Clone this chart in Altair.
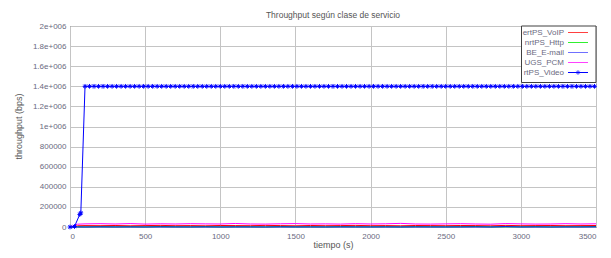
import altair as alt
import pandas as pd

TITLE = "Throughput según clase de servicio"
X_TITLE = "tiempo (s)"
Y_TITLE = "throughput (bps)"

series_names = ["ertPS_VoIP", "nrtPS_Http", "BE_E-mail", "UGS_PCM", "rtPS_Video"]
series_colors = ["#ff0000", "#00e000", "#0000ff", "#ff00ff", "#0000ff"]
legend_colors = ["#ff4040", "#30f030", "#7070ff", "#ff40ff", "#0000ff"]

# time samples for the low-rate services (s)
t_low = [0, 50, 100, 200, 300, 400, 500, 600, 700, 800, 900, 1000, 1100, 1200,
         1300, 1400, 1500, 1600, 1700, 1800, 1900, 2000, 2100, 2200, 2300, 2400,
         2500, 2600, 2700, 2800, 2900, 3000, 3100, 3200, 3300, 3400, 3500]

voip = [0, 12000, 14000, 13000, 15000, 12000, 14000, 16000, 13000, 14000, 12000,
        15000, 14000, 13000, 16000, 14000, 12000, 15000, 13000, 14000, 16000, 13000,
        14000, 12000, 15000, 14000, 13000, 15000, 14000, 12000, 16000, 13000, 14000,
        15000, 13000, 14000, 15000]

http = [0, 2000, 1000, 3000, 1500, 2500, 1000, 4000, 2000, 1500, 3000, 1000, 2500,
        2000, 1000, 3500, 1500, 2000, 1000, 3000, 2000, 1500, 2500, 1000, 3000, 2000,
        1500, 2500, 4000, 1000, 2000, 1500, 3000, 1000, 2500, 2000, 4000]

email = [0, 500, 300, 800, 400, 600, 300, 900, 500, 400, 700, 300, 600, 500, 300,
         800, 400, 500, 300, 700, 500, 400, 600, 300, 700, 500, 400, 600, 900, 300,
         3000, 400, 700, 300, 600, 500, 800]

ugs = [0, 28000, 31000, 33000, 30000, 34000, 29000, 32000, 30000, 33000, 31000,
       30000, 35000, 30000, 29000, 32000, 34000, 30000, 31000, 29000, 33000, 30000,
       32000, 36000, 30000, 29000, 31000, 33000, 30000, 28000, 34000, 31000, 29000,
       30000, 33000, 30000, 32000]

t_video = [0, 30, 65, 72,
           100, 130, 160, 190, 220, 250, 280, 310, 340, 370,
           400, 430, 460, 490, 520, 550, 580, 610, 640, 670,
           700, 730, 760, 790, 820, 850, 880, 910, 940, 970,
           1000, 1030, 1060, 1090, 1120, 1150, 1180, 1210, 1240, 1270,
           1300, 1330, 1360, 1390, 1420, 1450, 1480, 1510, 1540, 1570,
           1600, 1630, 1660, 1690, 1720, 1750, 1780, 1810, 1840, 1870,
           1900, 1930, 1960, 1990, 2020, 2050, 2080, 2110, 2140, 2170,
           2200, 2230, 2260, 2290, 2320, 2350, 2380, 2410, 2440, 2470,
           2500, 2530, 2560, 2590, 2620, 2650, 2680, 2710, 2740, 2770,
           2800, 2830, 2860, 2890, 2920, 2950, 2980, 3010, 3040, 3070,
           3100, 3130, 3160, 3190, 3220, 3250, 3280, 3310, 3340, 3370,
           3400, 3430, 3460, 3490]

video = [0, 5000, 125000, 140000,
         1400000, 1400000, 1400000, 1400000, 1400000, 1400000, 1400000, 1400000, 1400000, 1400000,
         1400000, 1400000, 1400000, 1400000, 1400000, 1400000, 1400000, 1400000, 1400000, 1400000,
         1400000, 1400000, 1400000, 1400000, 1400000, 1400000, 1400000, 1400000, 1400000, 1400000,
         1400000, 1400000, 1400000, 1400000, 1400000, 1400000, 1400000, 1400000, 1400000, 1400000,
         1400000, 1400000, 1400000, 1400000, 1400000, 1400000, 1400000, 1400000, 1400000, 1400000,
         1400000, 1400000, 1400000, 1400000, 1400000, 1400000, 1400000, 1400000, 1400000, 1400000,
         1400000, 1400000, 1400000, 1400000, 1400000, 1400000, 1400000, 1400000, 1400000, 1400000,
         1400000, 1400000, 1400000, 1400000, 1400000, 1400000, 1400000, 1400000, 1400000, 1400000,
         1400000, 1400000, 1400000, 1400000, 1400000, 1400000, 1400000, 1400000, 1400000, 1400000,
         1400000, 1400000, 1400000, 1400000, 1400000, 1400000, 1400000, 1400000, 1400000, 1400000,
         1400000, 1400000, 1400000, 1400000, 1400000, 1400000, 1400000, 1400000, 1400000, 1400000,
         1400000, 1400000, 1400000, 1400000]

x_ticks = [0, 500, 1000, 1500, 2000, 2500, 3000, 3500]
y_ticks = [0, 200000, 400000, 600000, 800000, 1000000, 1200000, 1400000,
           1600000, 1800000, 2000000]

FONT = "Liberation Sans"
LABEL_COLOR = "#6a6a80"
TEXT_COLOR = "#555555"

rows = []
for name, vals in zip(series_names[:4], [voip, http, email, ugs]):
    for t, v in zip(t_low, vals):
        rows.append({"serie": name, "t": t, "v": v})
low_df = pd.DataFrame(rows)
video_df = pd.DataFrame({"serie": series_names[4], "t": t_video, "v": video})

color = alt.Color("serie:N", scale=alt.Scale(domain=series_names, range=series_colors), legend=None)

x_enc = alt.X("t:Q", scale=alt.Scale(domain=[0, 3500], nice=False),
              axis=alt.Axis(values=x_ticks, title=X_TITLE, titleX=263, titleY=22,
                            titleBaseline="bottom", labelPadding=5, format="d",
                            labelOverlap=False))
y_enc = alt.Y("v:Q", scale=alt.Scale(domain=[0, 2000000], nice=False),
              axis=alt.Axis(values=y_ticks, title=Y_TITLE, titleX=-52, titleY=100,
                            titleAngle=270, titleAlign="center", titleBaseline="middle",
                            labelPadding=4, labelOverlap=False,
                            labelExpr="datum.value < 1000000 ? '' + datum.value : '' + (datum.value/1000000) + 'e+006'"))

ASTER = "M-1,0H1M0,-1V1M-0.7,-0.7L0.7,0.7M-0.7,0.7L0.7,-0.7"

low_lines = alt.Chart(low_df).mark_line(strokeWidth=1, interpolate="linear").encode(
    x=x_enc, y=y_enc, color=color, detail="serie:N",
    order=alt.Order("t:Q"))

video_line = alt.Chart(video_df).mark_line(
    strokeWidth=1, color="#0000ff",
    point=alt.OverlayMarkDef(shape=ASTER, filled=False, stroke="#0000ff", strokeWidth=1, size=22)
).encode(x=x_enc, y=y_enc)

# legend (inside, top right, gnuplot style)
legend_layers = [
    alt.Chart(pd.DataFrame({"a": [0]})).mark_rect(fill="white", stroke="#404040", strokeWidth=1).encode(
        x=alt.value(451.5), x2=alt.value(526), y=alt.value(0), y2=alt.value(56.5))
]
leg_y = [6.5, 16.5, 26.5, 36.5, 46.5]
for name, col, yy in zip(series_names, legend_colors, leg_y):
    legend_layers.append(
        alt.Chart(pd.DataFrame({"a": [0]})).mark_text(
            text=name, align="right", baseline="middle", font=FONT, fontSize=8, color=LABEL_COLOR
        ).encode(x=alt.value(494), y=alt.value(yy)))
    legend_layers.append(
        alt.Chart(pd.DataFrame({"a": [0]})).mark_rule(color=col, strokeWidth=1).encode(
            x=alt.value(498), x2=alt.value(518), y=alt.value(yy)))
legend_layers.append(
    alt.Chart(pd.DataFrame({"a": [0]})).mark_point(
        shape=ASTER, filled=False, stroke="#0000ff", strokeWidth=1, size=22
    ).encode(x=alt.value(508), y=alt.value(leg_y[4])))

chart = alt.layer(low_lines, video_line, *legend_layers).properties(
    width=526, height=201,
    title=alt.TitleParams(TITLE, font=FONT, fontSize=8.5, fontWeight="normal", color=TEXT_COLOR,
                          anchor="middle", offset=3),
    padding={"left": 62, "top": 18, "right": 7, "bottom": 23},
    autosize=alt.AutoSizeParams(type="none"),
).configure_view(
    stroke="#404040", strokeWidth=1
).configure_axis(
    grid=True, gridColor="#c4c4c4", gridWidth=1,
    domain=False, ticks=False,
    labelFont=FONT, labelFontSize=8, labelColor=LABEL_COLOR,
    titleFont=FONT, titleFontSize=9, titleFontWeight="normal", titleColor=TEXT_COLOR,
)

chart.save("out.html", embed_options={"renderer": "svg", "actions": False})
